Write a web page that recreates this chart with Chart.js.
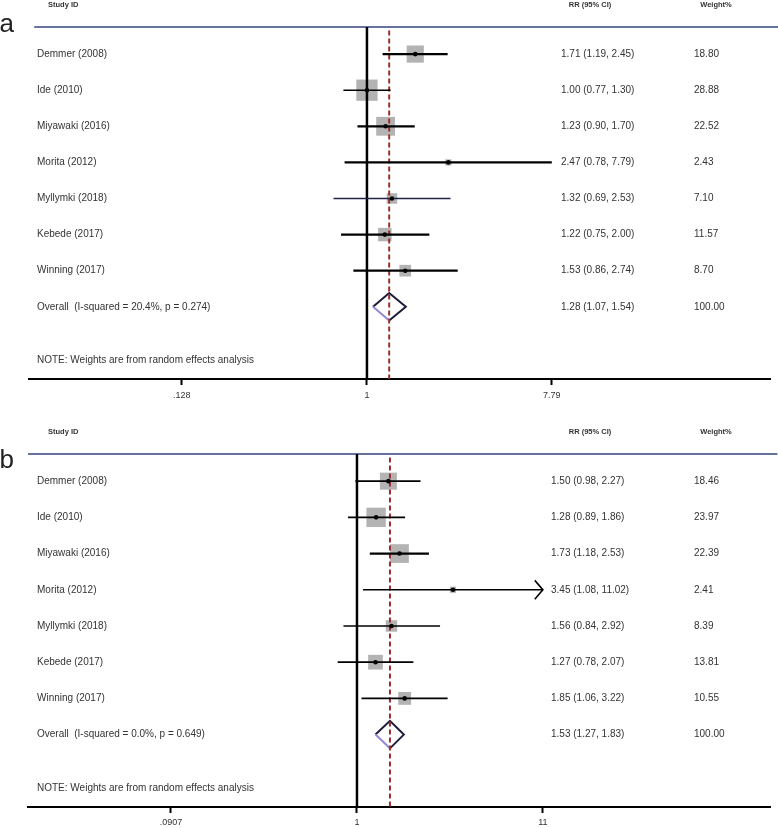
<!DOCTYPE html>
<html>
<head>
<meta charset="utf-8">
<script src="https://cdn.jsdelivr.net/npm/chart.js@4.4.1/dist/chart.umd.min.js"></script>
<style>
body{margin:0;background:#fff;}
canvas{display:block;}
</style>
</head>
<body>
<canvas id="chartA" width="778" height="404"></canvas>
<canvas id="chartB" width="778" height="424"></canvas>
<script>
var studies=["Demmer (2008)","Ide (2010)","Miyawaki (2016)","Morita (2012)","Myllymki (2018)","Kebede (2017)","Winning (2017)"];
var note="NOTE: Weights are from random effects analysis";

// panel a
var rrA=[1.71,1.00,1.23,2.47,1.32,1.22,1.53];
var loA=[1.19,0.77,0.90,0.78,0.69,0.75,0.86];
var hiA=[2.45,1.30,1.70,7.79,2.53,2.00,2.74];
var weightA=[18.80,28.88,22.52,2.43,7.10,11.57,8.70];
var overallA=[1.28,1.07,1.54];
var hetA="Overall  (I-squared = 20.4%, p = 0.274)";
var ticksA=[0.128,1,7.79];
var tickLabelsA=[".128","1","7.79"];
var rangeA=[0.02344,87.9];

// panel b
var rrB=[1.50,1.28,1.73,3.45,1.56,1.27,1.85];
var loB=[0.98,0.89,1.18,1.08,0.84,0.78,1.06];
var hiB=[2.27,1.86,2.53,11.02,2.92,2.07,3.22];
var weightB=[18.46,23.97,22.39,2.41,8.39,13.81,10.55];
var overallB=[1.53,1.27,1.83];
var hetB="Overall  (I-squared = 0.0%, p = 0.649)";
var ticksB=[0.0907,1,11];
var tickLabelsB=[".0907","1","11"];
var rangeB=[0.01436,205.9];

var FONT="'Liberation Sans', Arial, sans-serif";
var TXT="#333";

function forest(id,letter,rr,lo,hi,w,overall,het,ticks,tickLabels,range,st){
  var ds=[];
  var top=-0.75, bottom=9;
  var clipAt=range[1]>100?ticks[2]:Infinity;

  // point estimates
  ds.push({data:rr.map(function(v,i){return {x:v,y:i};}),showLine:false,
    pointStyle:'circle',pointRadius:2.3,backgroundColor:'#000',borderColor:'#000',borderWidth:0});
  // confidence intervals
  rr.forEach(function(v,i){
    ds.push({data:[{x:lo[i],y:i},{x:Math.min(hi[i],clipAt),y:i}],showLine:true,pointRadius:0,
      borderColor:st.ciColor[i],borderWidth:st.ciWidth[i]});
    if(hi[i]>clipAt){
      ds.push({data:[{x:clipAt/1.11,y:i-0.26},{x:clipAt,y:i},{x:clipAt/1.11,y:i+0.26}],
        showLine:true,pointRadius:0,borderColor:'#000',borderWidth:1.6,clip:false});
    }
  });
  // overall estimate dashed line
  ds.push({data:[{x:overall[0],y:top+0.1},{x:overall[0],y:bottom}],showLine:true,pointRadius:0,
    borderColor:'#a12b2b',borderWidth:2,borderDash:[5,3]});
  // null line
  ds.push({data:[{x:1,y:top},{x:1,y:bottom}],showLine:true,pointRadius:0,borderColor:'#000',borderWidth:2.5});
  // diamond
  var r=7;
  ds.push({data:[{x:overall[1],y:r},{x:overall[0],y:r-0.38},{x:overall[2],y:r},{x:overall[0],y:r+0.38},{x:overall[1],y:r}],
    showLine:true,pointRadius:0,borderColor:'#1d1b3a',borderWidth:2,
    segment:{borderColor:function(c){return c.p1DataIndex===4?'#9288d6':undefined;}}});
  // weight boxes
  ds.push({data:rr.map(function(v,i){return {x:v,y:i};}),showLine:false,pointStyle:'rect',
    pointRadius:function(c){return Math.sqrt(w[c.dataIndex])*2.8;},
    backgroundColor:'#b3b3b3',borderWidth:0});
  // top rule
  ds.push({data:[{x:range[0]*st.ruleStart,y:top},{x:range[1]*1.1,y:top}],showLine:true,pointRadius:0,
    borderColor:'#34447c',borderWidth:1.5,clip:false});

  var textPlugin={id:'forestText',afterDraw:function(chart){
    var c=chart.ctx, y=chart.scales.y;
    c.save();
    c.fillStyle=TXT;
    c.textBaseline='middle';
    c.font='bold 7.5px '+FONT;
    var hy=y.getPixelForValue(-1.37);
    c.textAlign='left';
    c.fillText('Study ID',48,hy);
    c.textAlign='center';
    c.fillText('RR (95% CI)',590,hy);
    c.fillText('Weight%',716,hy);
    c.textAlign='left';
    c.font='10px '+FONT;
    studies.forEach(function(s,i){
      var py=y.getPixelForValue(i);
      c.fillText(s,37,py);
      c.fillText(rr[i].toFixed(2)+' ('+lo[i].toFixed(2)+', '+hi[i].toFixed(2)+')',st.rrX,py);
      c.fillText(w[i].toFixed(2),694,py);
    });
    var oy=y.getPixelForValue(7);
    c.fillText(het,37,oy);
    c.fillText(overall[0].toFixed(2)+' ('+overall[1].toFixed(2)+', '+overall[2].toFixed(2)+')',st.rrX,oy);
    c.fillText('100.00',694,oy);
    c.fillText(note,37,y.getPixelForValue(8.48));
    c.fillStyle='#222';
    c.textBaseline='alphabetic';
    c.font='26px '+FONT;
    c.fillText(letter,-0.5,st.letterY);
    c.restore();
  }};

  new Chart(document.getElementById(id),{
    type:'scatter',
    data:{datasets:ds},
    plugins:[textPlugin],
    options:{
      responsive:false,
      animation:false,
      layout:{autoPadding:false,padding:{left:st.left,right:8,top:st.top,bottom:0}},
      plugins:{legend:{display:false},tooltip:{enabled:false}},
      scales:{
        x:{type:'logarithmic',min:range[0],max:range[1],
          afterBuildTicks:function(a){a.ticks=ticks.map(function(v){return {value:v};});},
          afterFit:function(a){a.height=st.axisH;},
          ticks:{autoSkip:false,maxRotation:0,padding:st.tickPad,color:TXT,font:{size:9,family:FONT},
            callback:function(v,i){return tickLabels[i];}},
          grid:{drawOnChartArea:false,drawTicks:true,tickLength:6,tickWidth:2,tickColor:'#000'},
          border:{display:true,color:'#000',width:2}},
        y:{type:'linear',display:false,reverse:true,min:top,max:bottom}
      }
    }
  });
}

forest('chartA','a',rrA,loA,hiA,weightA,overallA,hetA,ticksA,tickLabelsA,rangeA,
  {left:29,top:27,axisH:25,tickPad:5,rrX:561,letterY:32,ruleStart:1.06,
   ciWidth:[2.4,1.5,2.2,2.4,1.3,2.2,2.2],
   ciColor:['#000','#000','#000','#000','#23234a','#000','#000']});
forest('chartB','b',rrB,loB,hiB,weightB,overallB,hetB,ticksB,tickLabelsB,rangeB,
  {left:28,top:50,axisH:21,tickPad:4,rrX:551,letterY:64,ruleStart:1.0,
   ciWidth:[1.6,1.8,2.2,1.6,1.6,1.8,1.8],
   ciColor:['#000','#000','#000','#000','#000','#000','#000']});
</script>
</body>
</html>
